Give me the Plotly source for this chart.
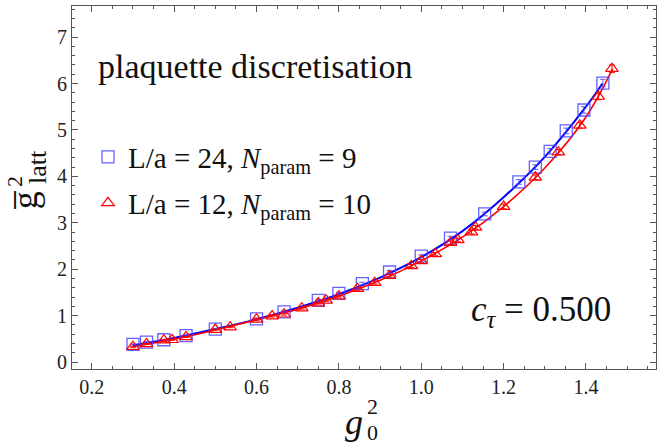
import plotly.graph_objects as go

# ---------------- data ----------------
g0_24 = [0.300, 0.333, 0.375, 0.429, 0.500, 0.600, 0.667, 0.750, 0.800, 0.857,
         0.923, 1.000, 1.071, 1.154, 1.237, 1.277, 1.313, 1.352, 1.395, 1.441]
gl_24 = [0.38, 0.43, 0.48, 0.57, 0.71, 0.93, 1.08, 1.33, 1.48, 1.69,
         1.94, 2.28, 2.67, 3.19, 3.88, 4.20, 4.54, 4.98, 5.43, 6.01]
err_24 = [0.01, 0.01, 0.01, 0.01, 0.01, 0.02, 0.02, 0.02, 0.02, 0.03,
          0.03, 0.03, 0.04, 0.04, 0.05, 0.05, 0.06, 0.06, 0.07, 0.08]

g0_12 = [0.300, 0.333, 0.375, 0.395, 0.429, 0.500, 0.536, 0.600, 0.638, 0.667,
         0.710, 0.750, 0.769, 0.800, 0.845, 0.887, 0.923, 0.976, 1.000, 1.034,
         1.071, 1.089, 1.122, 1.132, 1.200, 1.277, 1.333, 1.385, 1.430, 1.463]
gl_12 = [0.33, 0.39, 0.47, 0.48, 0.54, 0.70, 0.75, 0.92, 0.99, 1.03,
         1.16, 1.27, 1.33, 1.42, 1.58, 1.71, 1.86, 2.07, 2.18, 2.33,
         2.57, 2.63, 2.80, 2.90, 3.35, 3.98, 4.52, 5.10, 5.72, 6.32]
err_12 = [0.01, 0.01, 0.01, 0.01, 0.01, 0.01, 0.01, 0.02, 0.02, 0.02,
          0.02, 0.02, 0.02, 0.02, 0.03, 0.03, 0.03, 0.03, 0.03, 0.03,
          0.04, 0.04, 0.04, 0.04, 0.05, 0.05, 0.06, 0.06, 0.07, 0.08]

fit_x_24 = [0.30, 0.40, 0.50, 0.60, 0.70, 0.80, 0.90, 1.00, 1.10, 1.20, 1.30, 1.40, 1.44]
fit_y_24 = [0.36, 0.52, 0.71, 0.92, 1.17, 1.46, 1.82, 2.26, 2.82, 3.55, 4.42, 5.50, 6.00]
fit_x_12 = [0.30, 0.40, 0.50, 0.60, 0.70, 0.80, 0.90, 1.00, 1.10, 1.20, 1.30, 1.40, 1.465]
fit_y_12 = [0.33, 0.49, 0.69, 0.91, 1.14, 1.42, 1.76, 2.18, 2.69, 3.35, 4.18, 5.28, 6.32]

x_ticks = [0.2, 0.4, 0.6, 0.8, 1.0, 1.2, 1.4]
x_tick_labels = ["0.2", "0.4", "0.6", "0.8", "1.0", "1.2", "1.4"]
y_ticks = [0, 1, 2, 3, 4, 5, 6, 7]

label_24 = "L/a = 24, <i>N</i><sub>param</sub> = 9"
label_12 = "L/a = 12, <i>N</i><sub>param</sub> = 10"

# ---------------- geometry ----------------
W, H = 657, 445
ML, MR, MT, MB = 72, 1, 6, 76
PW, PH = W - ML - MR, H - MT - MB

def px(xp):
    return (xp - ML) / PW

def py(yp):
    return (H - MB - yp) / PH

SERIF = "Liberation Serif, Times New Roman, serif"
BLUE = "#0000ff"
BLUE_M = "rgba(70,70,255,0.85)"
RED = "#ff0000"
TXT = "#111111"

fig = go.Figure()

fig.add_trace(go.Scatter(x=fit_x_24, y=fit_y_24, mode="lines", line=dict(color=BLUE, width=2, shape="spline"),
                         showlegend=False, hoverinfo="skip"))
fig.add_trace(go.Scatter(x=fit_x_12, y=fit_y_12, mode="lines", line=dict(color=RED, width=1.6, shape="spline"),
                         showlegend=False, hoverinfo="skip"))

fig.add_trace(go.Scatter(
    x=g0_24, y=gl_24, mode="markers", name=label_24,
    error_y=dict(type="data", array=err_24, color=BLUE_M, thickness=1, width=3),
    marker=dict(symbol="square-open", size=12, color=BLUE_M, line=dict(width=1.3)),
    legend="legend"))
fig.add_trace(go.Scatter(
    x=g0_12, y=gl_12, mode="markers", name=label_12,
    error_y=dict(type="data", array=err_12, color=RED, thickness=1, width=3),
    marker=dict(symbol="triangle-up-open", size=11, color=RED, line=dict(width=1.2)),
    legend="legend2"))

axis_common = dict(
    showline=True, linecolor="#555555", linewidth=1.2, mirror="allticks",
    ticks="inside", tickcolor="#555555", tickwidth=1, ticklen=6,
    showgrid=False, zeroline=False,
    tickfont=dict(family=SERIF, size=20, color="#222222"),
)

fig.update_xaxes(range=[0.152, 1.570], tickvals=x_ticks, ticktext=x_tick_labels,
                 minor=dict(dtick=0.05, ticks="inside", ticklen=3, tickcolor="#555555"),
                 **axis_common)
fig.update_yaxes(range=[-0.15, 7.67], tickvals=y_ticks,
                 minor=dict(dtick=0.2, ticks="inside", ticklen=3, tickcolor="#555555"),
                 **axis_common)

legend_common = dict(font=dict(family=SERIF, size=29, color=TXT), bgcolor="rgba(0,0,0,0)",
                     xanchor="left", yanchor="middle", itemwidth=30, borderwidth=0)

fig.update_layout(
    width=W, height=H,
    margin=dict(l=ML, r=MR, t=MT, b=MB),
    paper_bgcolor="white", plot_bgcolor="white",
    legend=dict(x=px(88), y=py(157), **legend_common),
    legend2=dict(x=px(88), y=py(203), **legend_common),
)

ann = []
ann.append(dict(text="plaquette discretisation", x=px(96), y=py(66), xref="paper", yref="paper",
                xanchor="left", yanchor="middle", showarrow=False,
                font=dict(family=SERIF, size=34, color=TXT)))
ann.append(dict(text="<i>c</i><sub><i>\u03c4</i></sub> = 0.500", x=px(469), y=py(311), xref="paper", yref="paper",
                xanchor="left", yanchor="middle", showarrow=False,
                font=dict(family=SERIF, size=35, color=TXT)))
# x-axis title g_0^2
ann.append(dict(text="<i>g</i>", x=px(354), y=py(422), xref="paper", yref="paper",
                xanchor="center", yanchor="middle", showarrow=False,
                font=dict(family=SERIF, size=36, color=TXT)))
ann.append(dict(text="2", x=px(372), y=py(406), xref="paper", yref="paper",
                xanchor="center", yanchor="middle", showarrow=False,
                font=dict(family=SERIF, size=22, color=TXT)))
ann.append(dict(text="0", x=px(372), y=py(432), xref="paper", yref="paper",
                xanchor="center", yanchor="middle", showarrow=False,
                font=dict(family=SERIF, size=22, color=TXT)))
# y-axis title  g-bar^2_latt (rotated)
ann.append(dict(text="g\u0305", x=px(25), y=py(200), xref="paper", yref="paper", textangle=-90,
                xanchor="center", yanchor="middle", showarrow=False,
                font=dict(family=SERIF, size=36, color=TXT)))
ann.append(dict(text="2", x=px(14), y=py(182), xref="paper", yref="paper", textangle=-90,
                xanchor="center", yanchor="middle", showarrow=False,
                font=dict(family=SERIF, size=22, color=TXT)))
ann.append(dict(text="latt", x=px(37), y=py(167), xref="paper", yref="paper", textangle=-90,
                xanchor="center", yanchor="middle", showarrow=False,
                font=dict(family=SERIF, size=26, color=TXT)))
fig.update_layout(annotations=ann)

fig.write_html("out.html")
